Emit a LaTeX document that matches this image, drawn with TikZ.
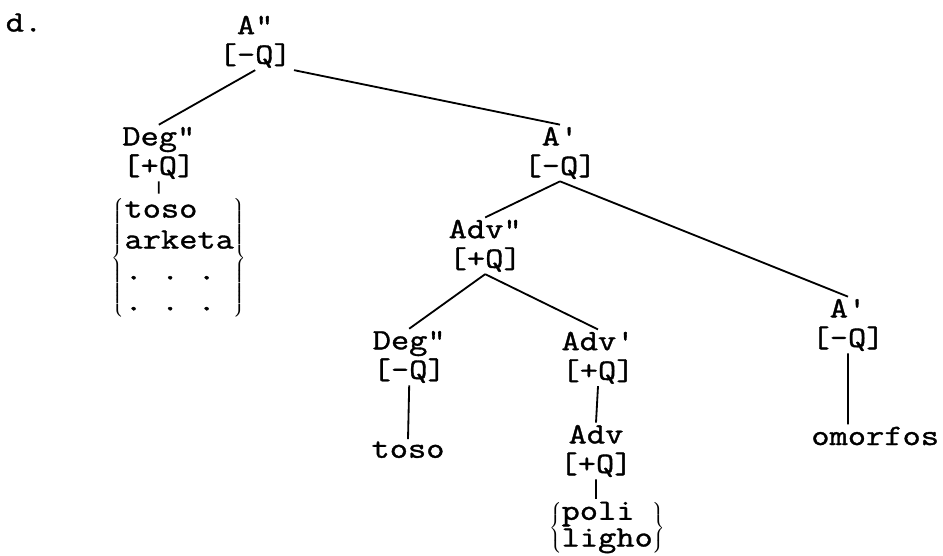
\documentclass[tikz,border=0pt]{standalone}
\usepackage{fontspec}
\setmonofont{Latin Modern Mono}[FakeStretch=1.2, FakeBold=1.2]
\usepackage{tikz}
\usetikzlibrary{calc, positioning}

\tikzset{
  tw/.style={font=\fontsize{21}{21}\selectfont\ttfamily, inner sep=1pt},
  cat/.style={tw, align=center}
}

\begin{document}
\begin{tikzpicture}[line width=1.3pt]
                        \useasboundingbox (0, 0) rectangle (23.575, 13.875);
                        \node[tw] (lbl) at (0.6, 13.31) {d.};
                        \node[cat] (aTop) at (6.38, 12.83) {A"\\{[-Q]}};
                        \node[cat] (degA) at (3.97, 10.05) {Deg"\\{[+Q]}};
                        \node[cat] (aBar) at (14.0, 10.05) {A'\\{[-Q]}};
                        \node[cat] (advP) at (12.13, 7.73) {Adv"\\{[+Q]}};
                        \node[cat] (degB) at (10.23, 4.95) {Deg"\\{[-Q]}};
                        \node[cat] (advBar) at (14.95, 4.93) {Adv'\\{[+Q]}};
                        \node[cat] (adv) at (14.9, 2.6) {Adv\\{[+Q]}};
                        \node[cat] (aBarB) at (21.2, 5.75) {A'\\{[-Q]}};
                        \node[tw, font=\fontsize{21}{22}\selectfont\ttfamily] (lstA) at (4.48, 7.43)
                        {$\left\{\begin{tabular}{@{}l@{}}toso\\arketa\\. . .\\. . .\end{tabular}\right\}$};
                        \node[tw, anchor=base] (tosoB) at (10.2, 2.43) {toso};
                        \node[tw, font=\fontsize{21}{19}\selectfont\ttfamily] (lstB) at (15.18, 0.68)
                        {$\left\{\begin{tabular}{@{}l@{}}poli\\ligho\end{tabular}\right\}$};
                        \node[tw, anchor=base] (omorfos) at (21.88, 2.75) {omorfos};
                        \draw
                        (aTop.south) -- (degA.north)
                        (aTop.south east) -- (aBar.north)
                        (degA.south) -- (degA.south |- lstA.north)
                        (aBar.south) -- (advP.north)
                        (aBar.south) -- (aBarB.north)
                        (advP.south) -- (degB.north)
                        (advP.south) -- (advBar.north)
                        (degB.south) -- (tosoB.north)
                        (advBar.south) -- (adv.north)
                        (adv.south) -- (adv.south |- lstB.north)
                        (aBarB.south) -- (aBarB.south |- omorfos.north);
                    \end{tikzpicture}
\end{document}
